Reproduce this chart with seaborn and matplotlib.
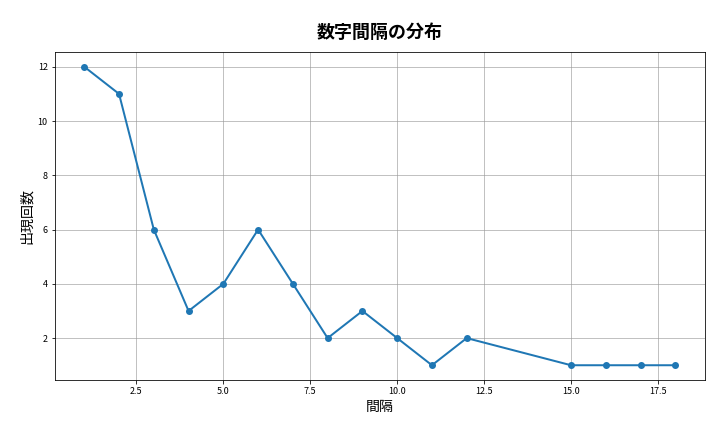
import matplotlib
matplotlib.use("Agg")
import matplotlib.pyplot as plt
import seaborn as sns
import pandas as pd

gaps = [1, 2, 3, 4, 5, 6, 7, 8, 9, 10, 11, 12, 15, 16, 17, 18]
counts = [12, 11, 6, 3, 4, 6, 4, 2, 3, 2, 1, 2, 1, 1, 1, 1]

plt.rcParams['font.family'] = ['Noto Sans CJK JP', 'DejaVu Sans']
df = pd.DataFrame({"間隔": gaps, "出現回数": counts})

fig, ax = plt.subplots(figsize=(10, 6), dpi=72)
sns.lineplot(data=df, x="間隔", y="出現回数", marker="o", markersize=7,
             markeredgewidth=0, linewidth=2, color="#1f77b4", ax=ax)
ax.grid(True, color="#999999", linewidth=0.6)
ax.set_title("数字間隔の分布", fontsize=18, fontweight="bold", pad=14)
ax.set_xlabel("間隔", fontsize=14)
ax.set_ylabel("出現回数", fontsize=14)
ax.tick_params(labelsize=9)
fig.subplots_adjust(left=0.076, right=0.979, top=0.88, bottom=0.12)
fig.savefig("out.png")
